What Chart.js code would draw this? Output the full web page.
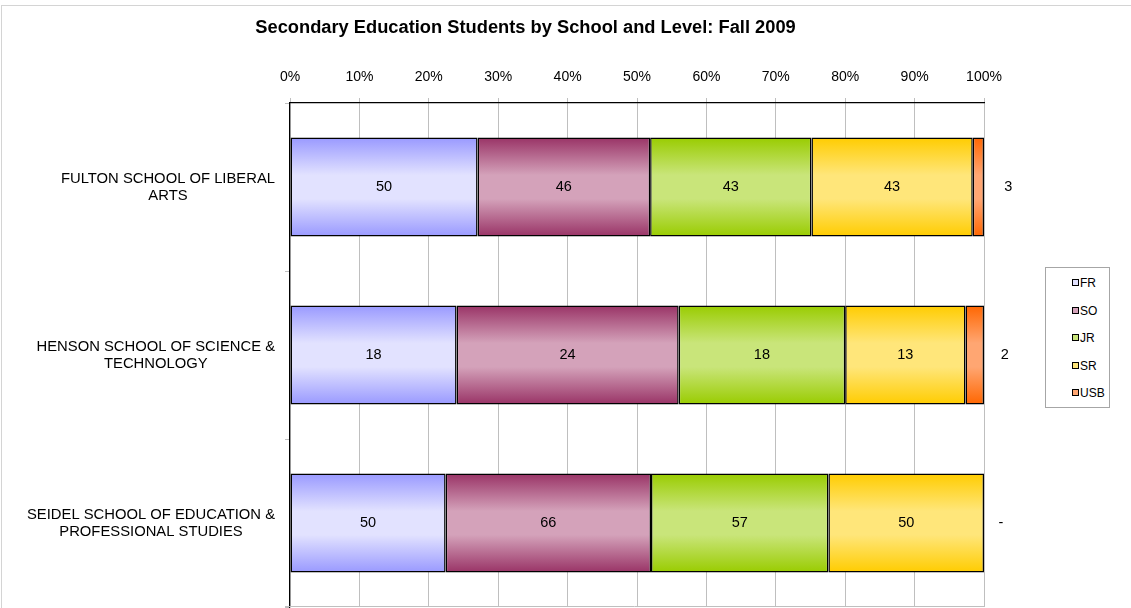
<!DOCTYPE html>
<html>
<head>
<meta charset="utf-8">
<script src="https://cdn.jsdelivr.net/npm/chart.js@4"></script>
<style>
  html, body { margin: 0; padding: 0; background: #fff; }
  #wrap { position: relative; width: 1131px; height: 608px; overflow: hidden; }
  #frame { position: absolute; left: 1px; top: 5px; width: 1140px; height: 620px; border-top: 1px solid #d4d4d4; border-left: 1px solid #d4d4d4; }
  canvas { position: absolute; left: 0; top: 0; }
  #legend { position: absolute; left: 1045px; top: 267px; width: 63px; height: 139px; border: 1px solid #a6a6a6; background: #fff; font-family: "Liberation Sans", Arial, sans-serif; font-size: 12px; color: #000; }
  #legend .item { position: absolute; left: 26px; height: 14px; line-height: 14px; white-space: nowrap; }
  #legend .sw { display: inline-block; width: 5px; height: 5px; border: 1.5px solid #000; vertical-align: 1px; margin-right: 1px; }
</style>
</head>
<body>
<div id="wrap">
  <div id="frame"></div>
  <canvas id="c" width="1131" height="608"></canvas>
  <div id="legend"></div>
</div>
<script>
// ---- data ----
const title = 'Secondary Education Students by School and Level: Fall 2009';
const categories = [
  ['FULTON SCHOOL OF LIBERAL', 'ARTS'],
  ['HENSON SCHOOL OF SCIENCE &', 'TECHNOLOGY'],
  ['SEIDEL SCHOOL OF EDUCATION &', 'PROFESSIONAL STUDIES']
];
const seriesNames = ['FR', 'SO', 'JR', 'SR', 'USB'];
const fr  = [50, 18, 50];
const so  = [46, 24, 66];
const jr  = [43, 18, 57];
const sr  = [43, 13, 50];
const usb = [3, 2, 0];
const tickValues = [0, 10, 20, 30, 40, 50, 60, 70, 80, 90, 100];

// ---- styles ----
const edgeColors  = ['#9999FF', '#993366', '#99CC00', '#FFCC00', '#FF6600'];
const lightColors = ['#E2E2FF', '#D4A2BA', '#C9E57A', '#FFE67A', '#FFA672'];
const FONT = '"Liberation Sans", Arial, sans-serif';
const BAR_PCT = 0.59;

const series = [fr, so, jr, sr, usb];
const totals = categories.map((_, j) => series.reduce((s, arr) => s + arr[j], 0));
const pct = series.map(arr => arr.map((v, j) => v / totals[j] * 100));

function gradFill(k) {
  return (ctx) => {
    const chart = ctx.chart;
    const area = chart.chartArea;
    if (!area || ctx.dataIndex === undefined) return edgeColors[k];
    const ys = chart.scales.y;
    const yc = ys.getPixelForValue(ctx.dataIndex);
    const band = area.height / categories.length;
    const half = band * BAR_PCT / 2;
    const g = chart.ctx.createLinearGradient(0, yc - half, 0, yc + half);
    g.addColorStop(0, edgeColors[k]);
    g.addColorStop(0.38, lightColors[k]);
    g.addColorStop(0.62, lightColors[k]);
    g.addColorStop(1, edgeColors[k]);
    return g;
  };
}

const datasets = seriesNames.map((name, k) => ({
  label: name,
  data: pct[k],
  backgroundColor: gradFill(k),
  borderColor: '#000',
  borderWidth: 1.5,
  borderSkipped: false,
  barPercentage: BAR_PCT,
  categoryPercentage: 1.0
}));

const drawPlugin = {
  id: 'extras',
  beforeDatasetsDraw(chart) {
    const ctx = chart.ctx;
    const a = chart.chartArea;
    ctx.save();
    ctx.strokeStyle = '#bfbfbf';
    ctx.lineWidth = 1;
    ctx.beginPath();
    ctx.moveTo(a.left - 5, a.bottom - 0.5);
    ctx.lineTo(a.right, a.bottom - 0.5);
    ctx.stroke();
    ctx.restore();
  },
  afterDatasetsDraw(chart) {
    const ctx = chart.ctx;
    ctx.save();
    ctx.font = '14.5px ' + FONT;
    ctx.fillStyle = '#000';
    ctx.textBaseline = 'middle';
    ctx.textAlign = 'center';
    const last = series.length - 1;
    series.forEach((arr, k) => {
      const meta = chart.getDatasetMeta(k);
      meta.data.forEach((bar, j) => {
        const v = arr[j];
        const cx = (bar.x + bar.base) / 2;
        if (k === last) {
          const x = v === 0 ? bar.x + 17 : cx + 30;
          ctx.fillText(v === 0 ? '-' : String(v), x, bar.y);
        } else if (v > 0) {
          ctx.fillText(String(v), cx, bar.y);
        }
      });
    });
    ctx.restore();
  },
  afterDraw(chart) {
    const ctx = chart.ctx;
    ctx.save();
    // title
    ctx.font = 'bold 18.3px ' + FONT;
    ctx.fillStyle = '#000';
    ctx.textAlign = 'center';
    ctx.textBaseline = 'middle';
    ctx.fillText(title, 525.5, 28);
    // category labels
    ctx.font = '14.8px ' + FONT;
    const ys = chart.scales.y;
    const right = ys.right - 15;
    categories.forEach((lines, i) => {
      const yc = ys.getPixelForValue(i);
      const w = Math.max(...lines.map(l => ctx.measureText(l).width));
      const cx = right - w / 2;
      lines.forEach((l, n) => {
        ctx.fillText(l, cx, yc + (n - (lines.length - 1) / 2) * 17);
      });
    });
    ctx.restore();
  }
};

new Chart(document.getElementById('c'), {
  type: 'bar',
  data: { labels: categories.map(c => c.join(' ')), datasets },
  options: {
    indexAxis: 'y',
    responsive: false,
    animation: false,
    layout: { padding: { top: 60, right: 147, bottom: 1, left: 0 } },
    plugins: { legend: { display: false }, tooltip: { enabled: false }, title: { display: false } },
    scales: {
      x: {
        type: 'linear',
        position: 'top',
        stacked: true,
        min: 0, max: 100,
        afterBuildTicks(scale) { scale.ticks = tickValues.map(v => ({ value: v })); },
        ticks: { callback: v => v + '%', font: { family: FONT, size: 14 }, color: '#000', padding: 12, maxRotation: 0 },
        grid: { color: '#bfbfbf', lineWidth: 1, tickLength: 5 },
        border: { color: '#000', width: 1.2 },
        afterFit(scale) { scale.height = 43; }
      },
      y: {
        stacked: true,
        ticks: { display: false },
        grid: { drawOnChartArea: false, color: '#bfbfbf', tickLength: 5, offset: true },
        border: { color: '#000', width: 1.2 },
        afterFit(scale) { scale.width = 290; }
      }
    }
  },
  plugins: [drawPlugin]
});

// legend (HTML)
const leg = document.getElementById('legend');
seriesNames.forEach((name, k) => {
  const d = document.createElement('div');
  d.className = 'item';
  d.style.top = (8 + k * 27.6) + 'px';
  d.innerHTML = '<span class="sw" style="background:' + lightColors[k] + '"></span>' + name;
  leg.appendChild(d);
});
</script>
</body>
</html>
